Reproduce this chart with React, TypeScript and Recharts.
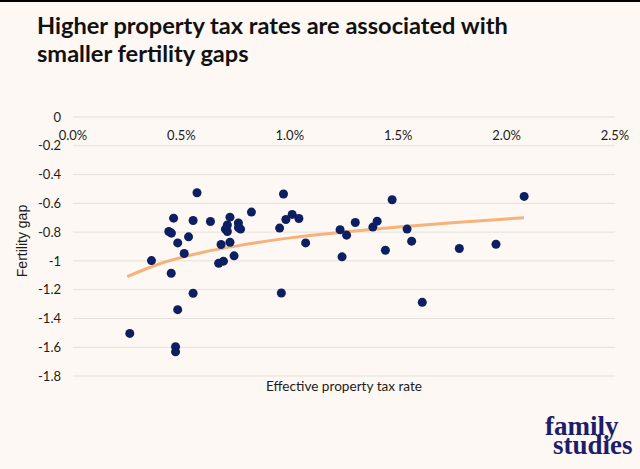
import React from 'react';
import { ComposedChart, Scatter, Line, XAxis, YAxis, CartesianGrid } from 'recharts';

// Effective property tax rate (%) for each state
const taxRates = [
  0.262, 0.362, 0.442, 0.454, 0.464, 0.453, 0.483, 0.483, 0.473, 0.473,
  0.513, 0.533, 0.554, 0.554, 0.572, 0.634, 0.672, 0.694, 0.683, 0.703,
  0.712, 0.712, 0.724, 0.724, 0.743, 0.763, 0.763, 0.773, 0.823, 0.953,
  0.971, 0.961, 0.982, 1.011, 1.042, 1.073, 1.232, 1.262, 1.241, 1.302,
  1.383, 1.403, 1.441, 1.472, 1.541, 1.562, 1.611, 1.782, 1.951, 2.081,
];

// Fertility gap for each state
const fertilityGaps = [
  -1.504, -0.998, -0.796, -0.807, -0.703, -1.086, -0.875, -1.339, -1.597, -1.632,
  -0.949, -0.833, -0.719, -1.225, -0.526, -0.726, -1.016, -1.002, -0.886, -0.779,
  -0.796, -0.751, -0.696, -0.87, -0.965, -0.737, -0.768, -0.779, -0.661, -0.772,
  -0.535, -1.223, -0.712, -0.677, -0.705, -0.875, -0.784, -0.821, -0.972, -0.733,
  -0.765, -0.724, -0.926, -0.575, -0.779, -0.863, -1.288, -0.914, -0.884, -0.552,
];

// Logarithmic trend line
const trendX = [0.25, 0.4, 0.6, 0.8, 1.0, 1.25, 1.5, 1.75, 2.08];
const trendY = [-1.11, -1.02, -0.94, -0.885, -0.84, -0.8, -0.765, -0.735, -0.7];

const xTicks = [0, 0.5, 1.0, 1.5, 2.0, 2.5];
const yTicks = [0, -0.2, -0.4, -0.6, -0.8, -1, -1.2, -1.4, -1.6, -1.8];

const titleLines = ['Higher property tax rates are associated with', 'smaller fertility gaps'];
const xTitle = 'Effective property tax rate';
const yTitle = 'Fertility gap';
const logoLines = ['family', 'studies'];

const scatterData = taxRates.map((x, i) => ({ x, y: fertilityGaps[i] }));
const trendData = trendX.map((x, i) => ({ x, y: trendY[i] }));

const BG = '#fdf8f3';
const tickStyle = { fontFamily: 'Lato, sans-serif', fontSize: 13, fill: '#1c1c1c' };

export default function App() {
  return (
    <div
      style={{
        position: 'fixed',
        left: 0,
        top: 0,
        width: 640,
        height: 469,
        background: BG,
        overflow: 'hidden',
      }}
    >
      <div style={{ position: 'absolute', left: 0, top: 0, width: 640, height: 2, background: '#000' }} />
      <div
        style={{
          position: 'absolute',
          left: 37,
          top: 11.1,
          fontFamily: 'Lato, sans-serif',
          fontWeight: 700,
          fontSize: 23.6,
          lineHeight: '28px',
          color: '#111',
          whiteSpace: 'nowrap',
        }}
      >
        {titleLines.map((t) => (
          <div key={t}>{t}</div>
        ))}
      </div>
      <div style={{ position: 'absolute', left: 0, top: 0 }}>
        <ComposedChart
          width={640}
          height={469}
          margin={{ top: 117, right: 25, bottom: 93, left: 13 }}
        >
          <CartesianGrid vertical={false} stroke="#e6e0d9" strokeWidth={1} />
          <XAxis
            type="number"
            dataKey="x"
            orientation="top"
            mirror
            domain={[0, 2.5]}
            ticks={xTicks}
            tickFormatter={(v: number) => `${v.toFixed(1)}%`}
            axisLine={false}
            tickLine={false}
            tickSize={6}
            tickMargin={8}
            tick={tickStyle}
            interval={0}
            allowDataOverflow
          />
          <YAxis
            type="number"
            dataKey="y"
            domain={[-1.8, 0]}
            ticks={yTicks}
            tickFormatter={(v: number) => String(v)}
            axisLine={false}
            tickLine={false}
            tickSize={6}
            tickMargin={6}
            width={60}
            tick={tickStyle}
            interval={0}
            allowDataOverflow
          />
          <Scatter data={scatterData} fill="#0c1f63" isAnimationActive={false} />
          <Line
            data={trendData}
            dataKey="y"
            type="monotone"
            stroke="#f6b27c"
            strokeWidth={3}
            dot={false}
            activeDot={false}
            isAnimationActive={false}
          />
        </ComposedChart>
      </div>
      <div
        style={{
          position: 'absolute',
          left: 73,
          width: 542,
          top: 377.5,
          textAlign: 'center',
          fontFamily: 'Lato, sans-serif',
          fontSize: 13.6,
          lineHeight: '16px',
          color: '#1c1c1c',
        }}
      >
        {xTitle}
      </div>
      <div
        style={{
          position: 'absolute',
          left: 22,
          top: 241,
          transform: 'translate(-50%, -50%) rotate(-90deg)',
          fontFamily: '"Liberation Sans", Arial, sans-serif',
          fontSize: 14,
          lineHeight: '16px',
          color: '#1c1c1c',
          whiteSpace: 'nowrap',
        }}
      >
        {yTitle}
      </div>
      <div
        style={{
          position: 'absolute',
          left: 545,
          top: 417.4,
          fontFamily: '"Liberation Serif", serif',
          fontWeight: 700,
          fontSize: 27,
          lineHeight: '19px',
          color: '#1d1e6b',
          whiteSpace: 'nowrap',
        }}
      >
        {logoLines[0]}
      </div>
      <div
        style={{
          position: 'absolute',
          left: 553,
          top: 436.4,
          fontFamily: '"Liberation Serif", serif',
          fontWeight: 700,
          fontSize: 27,
          lineHeight: '19px',
          color: '#1d1e6b',
          whiteSpace: 'nowrap',
        }}
      >
        {logoLines[1]}
      </div>
    </div>
  );
}
